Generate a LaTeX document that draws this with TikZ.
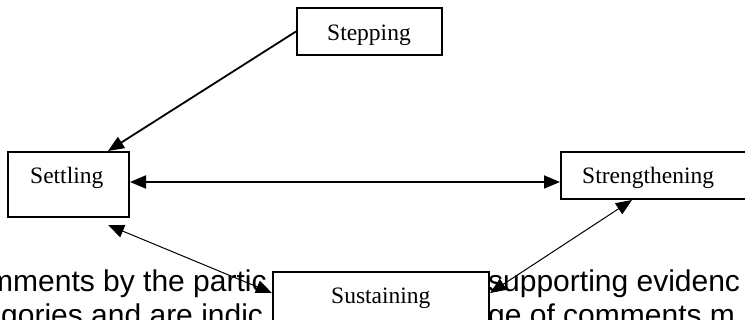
\documentclass[tikz,border=0pt]{standalone}
\usepackage{fontspec}
\setmainfont{Liberation Serif}
\newfontfamily\bgsans{Liberation Sans}
\usetikzlibrary{arrows.meta}
\begin{document}
\begin{tikzpicture}[x=1pt,y=-1pt,
  box/.style={draw=black, line width=2pt, fill=white, inner sep=0pt},
  lbl/.style={anchor=base west, inner sep=0pt, font=\fontsize{23.5}{28}\selectfont},
  bgtext/.style={anchor=base west, inner sep=0pt, font=\bgsans\fontsize{30}{34}\selectfont},
  arr/.style={line width=1.8pt, -{Triangle[length=16pt,width=13pt]}},
  darr/.style={line width=1.8pt, {Triangle[length=16pt,width=13pt]}-{Triangle[length=16pt,width=13pt]}},
  thinarr/.style={line width=1pt, {Triangle[length=16pt,width=13pt]}-{Triangle[length=16pt,width=13pt]}}]
\useasboundingbox (0,0) rectangle (745,320);
\fill[white] (0,0) rectangle (745,320);
\clip (0,0) rectangle (745,320);
% background document text
\node[bgtext] (bg1l) at (-12,292) {mments by the partic};
\node[bgtext] (bg2l) at (1,326) {gories and are indic};
\node[bgtext] (bg1r) at (488,292) {supporting evidenc};
\node[bgtext] (bg2r) at (488,326) {ge of comments m};
% boxes
\node[box, minimum width=145pt, minimum height=47pt] (stepping) at (369.5,31.5) {};
\node[box, minimum width=121pt, minimum height=65pt] (settling) at (68.5,184.5) {};
\node[box, minimum width=199pt, minimum height=47pt] (strengthening) at (660.5,175.5) {};
\node[box, minimum width=216pt, minimum height=52pt] (sustaining) at (381,298) {};
% labels
\node[lbl] (tStepping) at (327,41) {Stepping};
\node[lbl] (tSettling) at (30,184) {Settling};
\node[lbl] (tStrengthening) at (582,184) {Strengthening};
\node[lbl] (tSustaining) at (331,304) {Sustaining};
% connectors
\draw[arr] (stepping.west) -- ([xshift=39.5pt]settling.north);
\draw[darr] ([yshift=2.5pt]settling.east) -- ([yshift=2.5pt]settling.east -| strengthening.west);
\draw[thinarr] ([xshift=39.5pt,yshift=-7pt]settling.south) -- ([yshift=5pt]sustaining.west);
\draw[thinarr] ([yshift=5pt]sustaining.east) -- ([xshift=-28.5pt]strengthening.south);
\end{tikzpicture}
\end{document}
